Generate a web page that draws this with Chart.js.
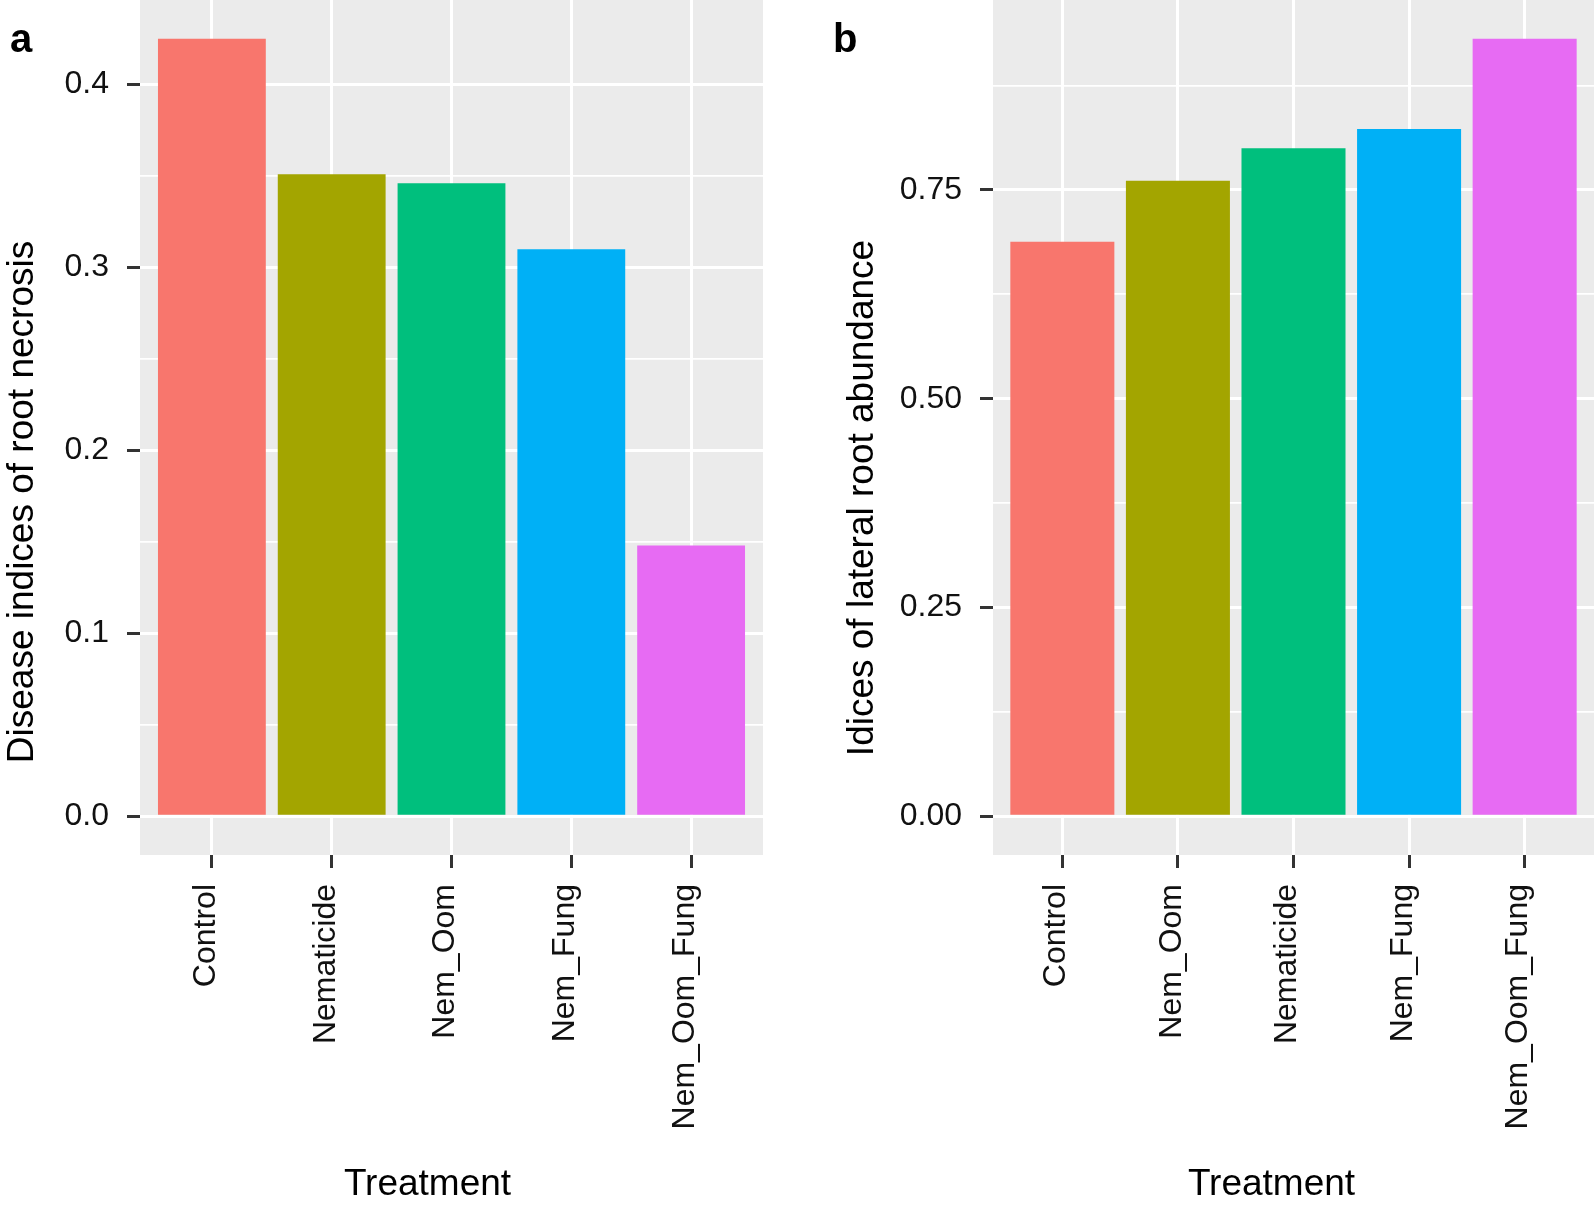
<!DOCTYPE html>
<html>
<head>
<meta charset="utf-8">
<script src="https://cdn.jsdelivr.net/npm/chart.js@4.4.1/dist/chart.umd.min.js"></script>
<style>
  html, body { margin: 0; padding: 0; background: #fff; }
  #wrap { position: relative; width: 1594px; height: 1207px; overflow: hidden; }
  canvas { position: absolute; top: 0; }
  #cA { left: 0; }
  #cB { left: 790px; }
</style>
</head>
<body>
<div id="wrap">
  <canvas id="cA" width="790" height="1207" style="width:790px;height:1207px"></canvas>
  <canvas id="cB" width="804" height="1207" style="width:804px;height:1207px"></canvas>
</div>
<script>
// panel a: disease indices of root necrosis
const categoriesA = ['Control', 'Nematicide', 'Nem_Oom', 'Nem_Fung', 'Nem_Oom_Fung'];
const valuesA = [0.425, 0.351, 0.346, 0.310, 0.148];
const majorTicksA = [0, 0.1, 0.2, 0.3, 0.4];
const tickLabelsA = ['0.0', '0.1', '0.2', '0.3', '0.4'];
const minorTicksA = [0.05, 0.15, 0.25, 0.35];

// panel b: indices of lateral root abundance
const categoriesB = ['Control', 'Nem_Oom', 'Nematicide', 'Nem_Fung', 'Nem_Oom_Fung'];
const valuesB = [0.688, 0.761, 0.800, 0.823, 0.931];
const majorTicksB = [0, 0.25, 0.5, 0.75];
const tickLabelsB = ['0.00', '0.25', '0.50', '0.75'];
const minorTicksB = [0.125, 0.375, 0.625, 0.875];

const barColors = ['#F8766D', '#A3A500', '#00BF7D', '#00B0F6', '#E76BF3'];

const FONT = "'Liberation Sans', Arial, Helvetica, sans-serif";
Chart.defaults.font.family = FONT;

// grey panel behind, titles and panel letter on top
const panelText = {
  id: 'panelText',
  beforeDraw(chart, args, o) {
    const { ctx, chartArea: a } = chart;
    ctx.save();
    ctx.fillStyle = '#EBEBEB';
    ctx.fillRect(a.left, a.top, a.right - a.left, a.bottom - a.top);
    ctx.restore();
  },
  afterDraw(chart, args, o) {
    const { ctx, chartArea: a } = chart;
    ctx.save();
    ctx.fillStyle = '#000';
    ctx.textBaseline = 'alphabetic';
    ctx.font = `bold 40px ${FONT}`;
    ctx.textAlign = 'left';
    ctx.fillText(o.letter, o.letterX, 52);
    ctx.font = `37px ${FONT}`;
    ctx.textAlign = 'center';
    ctx.fillText('Treatment', (a.left + a.right) / 2 + o.xTitleShift, 1195);
    ctx.translate(o.yTitleX, o.yTitleY);
    ctx.rotate(-Math.PI / 2);
    ctx.fillText(o.yTitle, 0, 0);
    ctx.restore();
  }
};

function makePanel(id, cats, vals, majors, majorLabels, minors, yRange, yAxisWidth, padRight, text) {
  const isMajor = v => majors.some(m => Math.abs(m - v) < 1e-9);
  return new Chart(document.getElementById(id), {
    type: 'bar',
    data: {
      datasets: [{
        data: vals.map((v, i) => ({ x: i, y: v })),
        backgroundColor: barColors,
        borderWidth: 0,
        categoryPercentage: 1,
        barPercentage: 0.9
      }]
    },
    options: {
      responsive: false, animation: false,
      layout: { padding: { left: 0, right: padRight, top: 0, bottom: 0 } },
      plugins: { legend: { display: false }, tooltip: { enabled: false }, panelText: text },
      scales: {
        x: {
          type: 'linear', min: -0.6, max: cats.length - 0.4, offset: false,
          afterBuildTicks: s => { s.ticks = cats.map((c, i) => ({ value: i })); },
          afterFit: s => { s.height = 1207 - 855; s.paddingLeft = 0; s.paddingRight = 0; },
          grid: { offset: false, color: '#fff', lineWidth: 3, tickLength: 13, tickColor: '#333', tickWidth: 3 },
          border: { display: false },
          ticks: {
            autoSkip: false, minRotation: 90, maxRotation: 90, padding: 16, labelOffset: -6,
            color: '#111', font: { size: 32 },
            callback: v => cats[v]
          }
        },
        y: {
          min: yRange[0], max: yRange[1],
          afterBuildTicks: s => { s.ticks = majors.concat(minors).sort((p, q) => p - q).map(v => ({ value: v })); },
          afterFit: s => { s.width = yAxisWidth; s.paddingTop = 0; s.paddingBottom = 0; },
          grid: {
            color: '#fff',
            lineWidth: c => isMajor(c.tick.value) ? 3 : 1.8,
            tickLength: 13,
            tickWidth: 3,
            tickColor: c => isMajor(c.tick.value) ? '#333' : 'rgba(0,0,0,0)'
          },
          border: { display: false },
          ticks: {
            autoSkip: false, padding: 18, color: '#111', font: { size: 32 },
            callback: v => { const k = majors.findIndex(m => Math.abs(m - v) < 1e-9); return k < 0 ? '' : majorLabels[k]; }
          }
        }
      }
    },
    plugins: [panelText]
  });
}

makePanel('cA', categoriesA, valuesA, majorTicksA, tickLabelsA, minorTicksA,
  [-0.02125, 0.44625], 140, 27,
  { letter: 'a', letterX: 10, yTitle: 'Disease indices of root necrosis', yTitleX: 33, yTitleY: 502, xTitleShift: -24 });

makePanel('cB', categoriesB, valuesB, majorTicksB, tickLabelsB, minorTicksB,
  [-0.04655, 0.97755], 203, 0,
  { letter: 'b', letterX: 43, yTitle: 'Idices of lateral root abundance', yTitleX: 83, yTitleY: 498, xTitleShift: -22 });
</script>
</body>
</html>
